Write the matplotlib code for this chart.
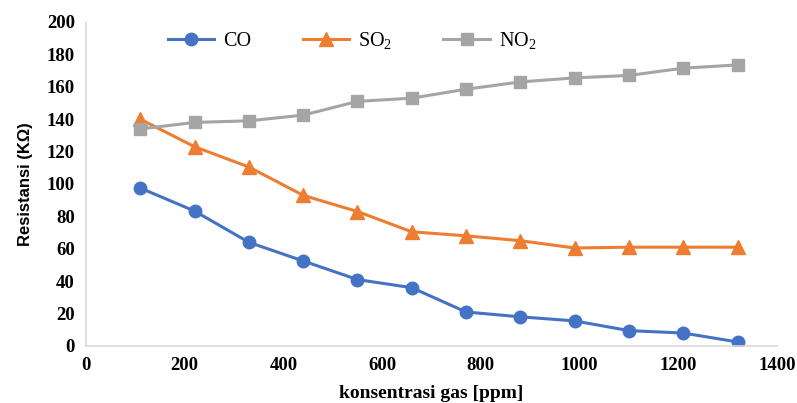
import matplotlib
matplotlib.use('Agg')
import matplotlib.pyplot as plt

# concentration (ppm) and resistance (kOhm)
konsentrasi = [110, 220, 330, 440, 550, 660, 770, 880, 990, 1100, 1210, 1320]
co = [97.5, 83.3, 64, 52.5, 41, 36, 21, 18, 15.5, 9.5, 8, 2.5]
so2 = [140, 123, 110.5, 93, 83, 70.5, 68, 65, 60.5, 61, 61, 61]
no2 = [134, 138, 139, 142.5, 151, 153, 158.5, 163, 165.5, 167, 171.5, 173.5]

xticks = list(range(0, 1401, 200))
yticks = list(range(0, 201, 20))

plt.rcParams['font.family'] = ['Liberation Serif', 'DejaVu Serif']
plt.rcParams['mathtext.fontset'] = 'custom'
plt.rcParams['mathtext.rm'] = 'Liberation Serif'

fig = plt.figure(figsize=(7.97, 4.03), dpi=100)
ax = fig.add_axes([86 / 797, 1 - 346 / 403, 691 / 797, 324 / 403])

ax.plot(konsentrasi, co, color='#4472C4', linewidth=2.2, marker='o', markersize=9, label='CO')
ax.plot(konsentrasi, so2, color='#ED7D31', linewidth=2.2, marker='^', markersize=10, label='SO$_2$')
ax.plot(konsentrasi, no2, color='#A5A5A5', linewidth=2.2, marker='s', markersize=9, label='NO$_2$')

ax.set_xlim(0, 1400)
ax.set_ylim(0, 200)
ax.set_xticks(xticks)
ax.set_yticks(yticks)
ax.tick_params(length=0, labelsize=13.5, pad=8)
for lab in ax.get_xticklabels() + ax.get_yticklabels():
	lab.set_fontweight('bold')

for side in ['top', 'right']:
	ax.spines[side].set_visible(False)
for side in ['left', 'bottom']:
	ax.spines[side].set_color('#D9D9D9')
	ax.spines[side].set_linewidth(1.2)

ax.set_xlabel('konsentrasi gas [ppm]', fontsize=14, fontweight='bold', labelpad=8)
ax.set_ylabel('Resistansi (KΩ)', fontsize=12, fontweight='bold', family='Liberation Sans', labelpad=10)

ax.legend(loc='upper left', bbox_to_anchor=(0.092, 1.03), ncol=3, frameon=False, fontsize=14.5,
	handlelength=2.3, columnspacing=2.55, handletextpad=0.45)

fig.savefig('out.png', dpi=100)
